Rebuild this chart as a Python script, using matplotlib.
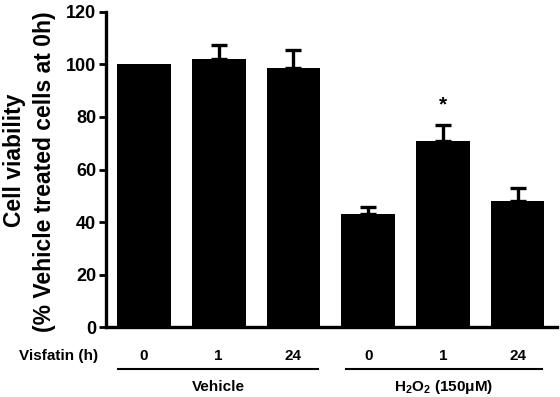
import matplotlib
matplotlib.use('Agg')
import matplotlib.pyplot as plt
import matplotlib.transforms as mtransforms

plt.rcParams['font.family'] = ['Liberation Sans', 'DejaVu Sans']
plt.rcParams['font.weight'] = 'bold'
plt.rcParams['mathtext.fontset'] = 'custom'
plt.rcParams['mathtext.rm'] = 'Liberation Sans:bold'
plt.rcParams['mathtext.bf'] = 'Liberation Sans:bold'

# verileri
zaman_etiketleri = ['0', '1', '24', '0', '1', '24']
viabilite = [100, 102, 98.5, 43, 71, 48]
hata = [0, 5.5, 7, 2.7, 6, 5]
grup_adlari = ['Vehicle', 'H$_2$O$_2$ (150μM)']
grup_cizgileri = [(-0.35, 2.33), (2.70, 5.33)]
yildizli = [4]

fig = plt.figure(figsize=(5.6, 3.97), dpi=100)
ax = fig.add_axes([0.189, 0.176, 0.806, 0.794])

x = list(range(len(viabilite)))
ax.bar(x, viabilite, width=0.72, color='black')

# sadece hatasi olan cubuklara hata cizgisi
hx = [i for i in x if hata[i] > 0]
ax.errorbar(hx, [viabilite[i] for i in hx], yerr=[[0] * len(hx), [hata[i] for i in hx]],
            fmt='none', ecolor='black', elinewidth=2.4, capsize=6, capthick=2.4)

for i in yildizli:
    ax.text(i, viabilite[i] + hata[i] + 4, '*', ha='center', va='bottom', fontsize=15)

ax.set_xlim(-0.51, 5.53)
ax.set_ylim(0, 120)
ax.set_yticks(range(0, 121, 20))
ax.set_xticks([])
ax.spines['top'].set_visible(False)
ax.spines['right'].set_visible(False)
ax.spines['left'].set_linewidth(2.4)
ax.spines['bottom'].set_linewidth(2.4)
ax.tick_params(axis='y', width=2, length=5, labelsize=13, pad=2)
for lbl in ax.get_yticklabels():
    lbl.set_fontweight('bold')

# eksen etiketi (iki satir)
fig.text(15 / 560, 1 - 160 / 397, 'Cell viability', rotation=90, ha='center', va='center', fontsize=16.5)
fig.text(45 / 560, 1 - 172 / 397, '(% Vehicle treated cells at 0h)', rotation=90,
         ha='center', va='center', fontsize=16.5)

# alt etiketler
karisik = mtransforms.blended_transform_factory(ax.transData, fig.transFigure)
fig.text(59 / 560, 1 - 356 / 397, 'Visfatin (h)', ha='center', va='center', fontsize=11)
for xi, et in zip(x, zaman_etiketleri):
    ax.text(xi, 1 - 356 / 397, et, transform=karisik, ha='center', va='center', fontsize=11)
for (a, b), ad in zip(grup_cizgileri, grup_adlari):
    ax.plot([a, b], [1 - 369 / 397] * 2, transform=karisik, color='black', lw=1.5, clip_on=False)
    ax.text((a + b) / 2, 1 - 387 / 397, ad, transform=karisik, ha='center', va='center', fontsize=11)

plt.savefig('out.png', dpi=100)
